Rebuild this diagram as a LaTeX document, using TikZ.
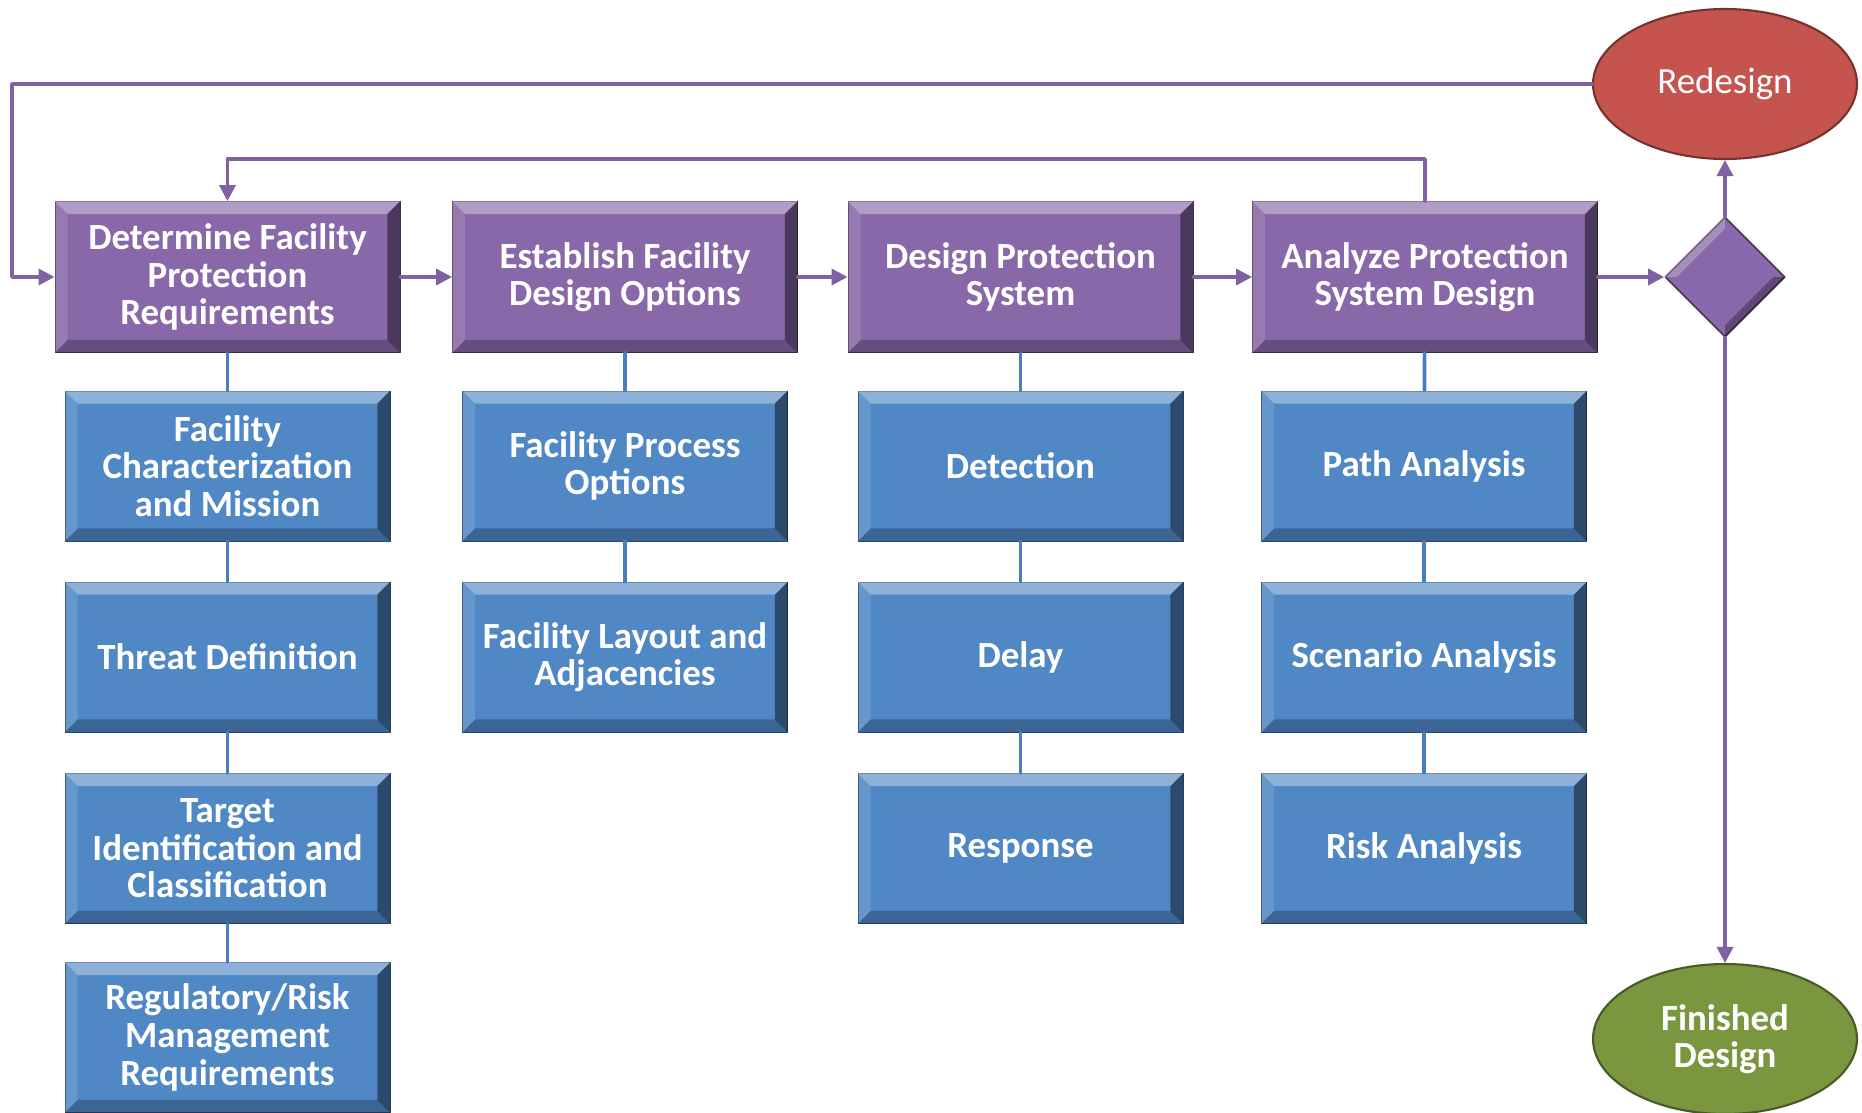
\documentclass[tikz,border=0pt]{standalone}
\usepackage{fontspec}
\setmainfont{Carlito}
\usetikzlibrary{arrows.meta,shapes.geometric}
\definecolor{stagePurple}{RGB}{136,104,168}
\definecolor{taskBlue}{RGB}{80,136,198}
\definecolor{redoRed}{RGB}{197,84,78}
\definecolor{doneGreen}{RGB}{122,150,62}
\definecolor{flowPurple}{RGB}{128,98,162}
\definecolor{linkBlue}{RGB}{72,126,188}
\begin{document}
\begin{tikzpicture}[x=0.02cm, y=-0.02cm, line cap=round, line join=round, font=\bfseries\fontsize{21}{21.4}\selectfont, >={Triangle[length=0.32cm,width=0.32cm]}]
	\tikzset{stage/.style={rectangle, fill=stagePurple, draw=stagePurple!55!black, line width=0.5pt, text=white, align=center, minimum width=6.9cm, minimum height=3.02cm, inner sep=0pt},
		task/.style={stage, fill=taskBlue, draw=taskBlue!55!black, minimum width=6.5cm, minimum height=3cm},
		flow/.style={draw=flowPurple, line width=2pt},
		link/.style={draw=linkBlue, line width=2.1pt}}
	\useasboundingbox (0,0) rectangle (1862,1112);
	% main stages
	\node[stage] (p1) at (227.5,277) {Determine Facility\\Protection\\Requirements};
	\node[stage] (p2) at (625,277) {Establish Facility\\Design Options};
	\node[stage] (p3) at (1020.5,277) {Design Protection\\System};
	\node[stage] (p4) at (1425,277) {Analyze Protection\\System Design};
	% sub tasks
	\node[task] (b11) at (227.5,466) {Facility\\Characterization\\and Mission};
	\node[task] (b12) at (227.5,657) {Threat Definition};
	\node[task] (b13) at (227.5,848.5) {Target\\Identification and\\Classification};
	\node[task] (b14) at (227.5,1037.5) {Regulatory/Risk\\Management\\Requirements};
	\node[task] (b21) at (625,466) {Facility Process\\Options};
	\node[task] (b22) at (625,657) {Facility Layout and\\Adjacencies};
	\node[task] (b31) at (1020.5,466) {Detection};
	\node[task] (b32) at (1020.5,657) {Delay};
	\node[task] (b33) at (1020.5,848.5) {Response};
	\node[task] (b41) at (1424,466) {Path Analysis};
	\node[task] (b42) at (1424,657) {Scenario Analysis};
	\node[task] (b43) at (1424,848.5) {Risk Analysis};
	% bevel edges
	\def\bw{0.26cm}
	\foreach \n in {p1,p2,p3,p4,b11,b12,b13,b14,b21,b22,b31,b32,b33,b41,b42,b43}{
		\fill[white, opacity=0.35] (\n.north west) -- (\n.north east) -- ([xshift=-\bw,yshift=-\bw]\n.north east) -- ([xshift=\bw,yshift=-\bw]\n.north west) -- cycle;
		\fill[white, opacity=0.12] (\n.north west) -- ([xshift=\bw,yshift=-\bw]\n.north west) -- ([xshift=\bw,yshift=\bw]\n.south west) -- (\n.south west) -- cycle;
		\fill[black, opacity=0.25] (\n.south west) -- (\n.south east) -- ([xshift=-\bw,yshift=\bw]\n.south east) -- ([xshift=\bw,yshift=\bw]\n.south west) -- cycle;
		\fill[black, opacity=0.45] (\n.north east) -- ([xshift=-\bw,yshift=-\bw]\n.north east) -- ([xshift=-\bw,yshift=\bw]\n.south east) -- (\n.south east) -- cycle;
	}
	% decision and outcomes
	\node[diamond, fill=stagePurple, draw=stagePurple!55!black, line width=1pt, aspect=1, minimum size=2.4cm, inner sep=0pt] (dec) at (1725,277) {};
	\fill[white, opacity=0.25] (dec.west) -- (dec.north) -- ([yshift=-0.25cm]dec.north) -- ([xshift=0.25cm]dec.west) -- cycle;
	\fill[black, opacity=0.3] (dec.east) -- (dec.south) -- ([yshift=0.25cm]dec.south) -- ([xshift=-0.25cm]dec.east) -- cycle;
	\node[ellipse, fill=redoRed, draw=redoRed!60!black, line width=1.2pt, text=white, minimum width=5.28cm, minimum height=3cm, inner sep=0pt, font=\fontsize{21}{21.4}\selectfont] (redo) at (1725,84) {Redesign};
	\node[ellipse, fill=doneGreen, draw=doneGreen!60!black, line width=1.2pt, text=white, align=center, minimum width=5.28cm, minimum height=3cm, inner sep=0pt] (done) at (1725,1039) {Finished\\Design};
	% connectors
	\draw[link] (p1) -- (b11) -- (b12) -- (b13) -- (b14);
	\draw[link] (p2) -- (b21) -- (b22);
	\draw[link] (p3) -- (b31) -- (b32) -- (b33);
	\draw[link] (p4) -- (b41) -- (b42) -- (b43);
	\draw[flow,->] (p1) -- (p2);
	\draw[flow,->] (p2) -- (p3);
	\draw[flow,->] (p3) -- (p4);
	\draw[flow,->] (p4) -- (dec);
	\draw[flow,->] (dec) -- (redo);
	\draw[flow,->] (dec) -- (done);
	\coordinate (lft) at (12,0);
	\coordinate (top) at (0,159);
	\draw[flow,->] (redo.west) -- (redo.west -| lft) |- (p1.west);
	\draw[flow,->] (p4.north) -- (p4.north |- top) -| (p1.north);
\end{tikzpicture}
\end{document}
